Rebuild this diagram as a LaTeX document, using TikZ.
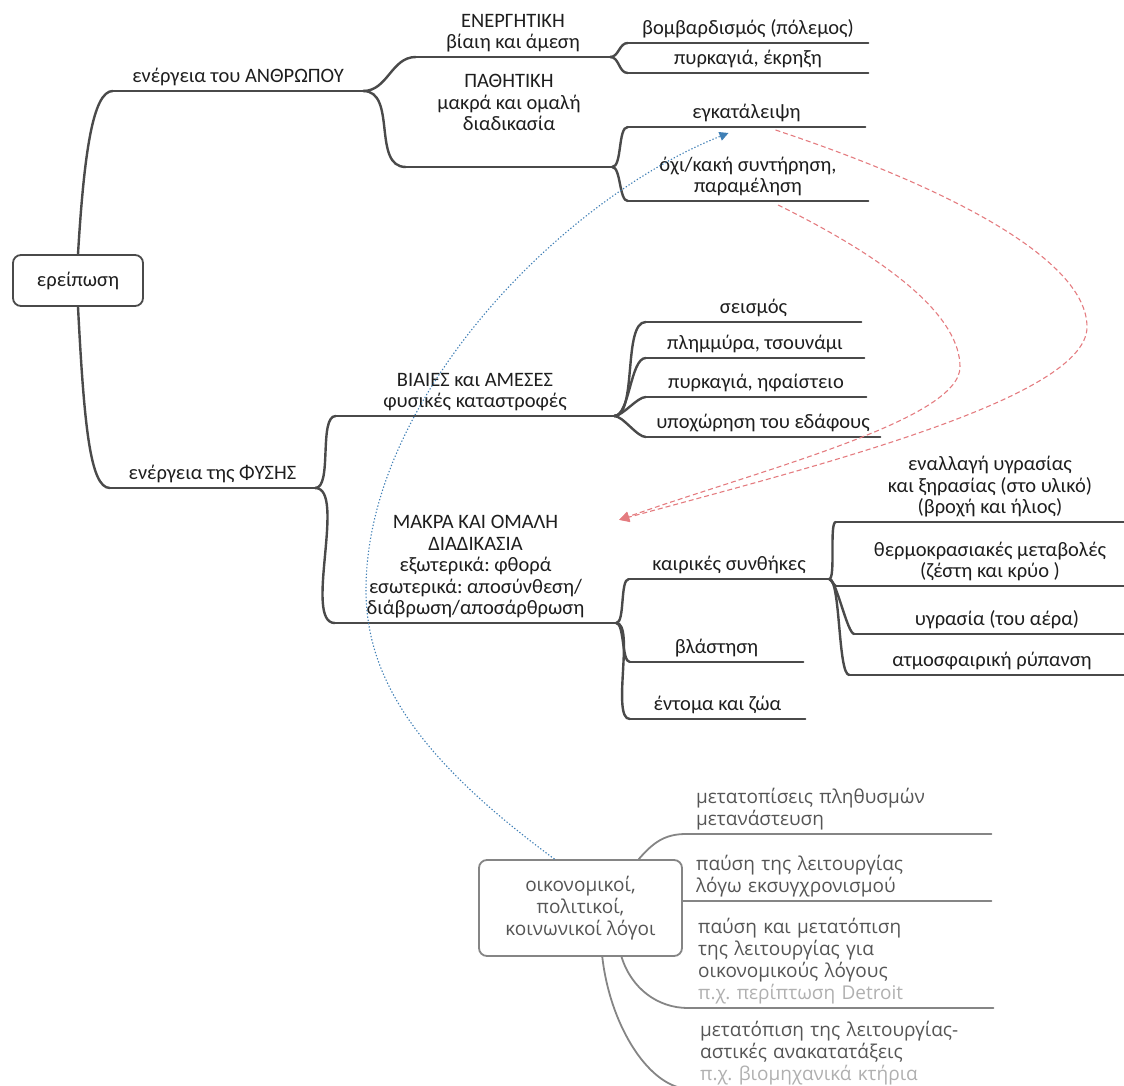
\documentclass[tikz,border=0pt]{standalone}
\usepackage{fontspec}
\setmainfont{Carlito}
\newfontfamily\folhafamilia{Open Sans}
\usetikzlibrary{calc}
\usetikzlibrary{arrows.meta}
\frenchspacing
\definecolor{linha}{HTML}{4A4A4A}
\definecolor{texto}{HTML}{1E1E1E}
\definecolor{cinza}{HTML}{858585}
\definecolor{cinzatexto}{HTML}{555555}
\definecolor{claro}{HTML}{B0B0B0}
\definecolor{verm}{HTML}{E47C80}
\definecolor{azul}{HTML}{3F7FB5}
\newcommand{\fonteramo}{\fontsize{20.5}{21.5}\selectfont}
\newcommand{\fontefolha}{\folhafamilia\fontsize{19}{22}\selectfont}
\tikzset{ramo/.style={draw=linha,line width=2.4pt,line cap=round}}
\tikzset{ramofolha/.style={draw=cinza,line width=1.8pt,line cap=round}}
\tikzset{topico/.style={anchor=south,align=center,inner xsep=0pt,inner ysep=1.5pt,text=texto,font=\fonteramo,execute at end node=\strut}}
\tikzset{folha/.style={anchor=south west,align=left,inner xsep=10pt,inner ysep=1.5pt,text width=285pt,text=cinzatexto,font=\fontefolha,execute at end node=\strut}}
\tikzset{caixa/.style={draw=#1,line width=1.8pt,rounded corners=8pt,fill=white,align=center},caixa/.default=linha}
\tikzset{liga/.style={draw=verm,line width=1.1pt,dash pattern=on 5pt off 3pt,-{Triangle[length=10pt,width=10pt,fill=verm]}}}
\tikzset{pista/.style={draw=azul,line width=1.1pt,dash pattern=on 1.3pt off 2pt,-{Triangle[length=9pt,width=9pt,fill=azul]}}}

\begin{document}
\begin{tikzpicture}[x=1pt,y=1pt]
	\useasboundingbox (0,0) rectangle (1124,-1086);
	\clip (0,0) rectangle (1124,-1086);

	% Raiz
	\node[caixa, minimum width=130, minimum height=51, text=texto, font=\fonteramo] (raiz) at (78,-280.5) {ερείπωση};

	% Ramo do homem
	\node[topico, minimum width=250] (anthr) at (238,-91) {ενέργεια του ΑΝΘΡΩΠΟΥ};
	\node[topico, minimum width=194] (energ) at (513,-57) {ΕΝΕΡΓΗΤΙΚΗ\\βίαιη και άμεση};
	\node[topico, minimum width=206, inner ysep=29.5pt] (pathi) at (509,-167) {ΠΑΘΗΤΙΚΗ\\μακρά και ομαλή\\διαδικασία};
	\node[topico, minimum width=240] (bomb) at (748,-43) {βομβαρδισμός (πόλεμος)};
	\node[topico, minimum width=240] (fotia) at (748,-73) {πυρκαγιά, έκρηξη};
	\node[topico, minimum width=237] (egk) at (746.5,-127) {εγκατάλειψη};
	\node[topico, minimum width=240] (amel) at (748,-201) {όχι/κακή συντήρηση,\\παραμέληση};

	\draw [ramo] (anthr.south west) -- (anthr.south east);
	\draw [ramo] (energ.south west) -- (energ.south east);
	\draw [ramo] (pathi.south west) -- (pathi.south east);
	\draw [ramo] (bomb.south west) -- (bomb.south east);
	\draw [ramo] (fotia.south west) -- (fotia.south east);
	\draw [ramo] (egk.south west) -- (egk.south east);
	\draw [ramo] (amel.south west) -- (amel.south east);

	\draw [ramo] (raiz.north) .. controls +(6,100) and +(-20,0) .. (anthr.south west);
	\draw [ramo] (anthr.south east) to[out=0,in=180] (energ.south west);
	\draw [ramo] (anthr.south east) to[out=0,in=180] (pathi.south west);
	\draw [ramo] (energ.south east) to[out=0,in=180] (bomb.south west);
	\draw [ramo] (energ.south east) to[out=0,in=180] (fotia.south west);
	\draw [ramo] (pathi.south east) to[out=0,in=180,looseness=0.6] (egk.south west);
	\draw [ramo] (pathi.south east) to[out=0,in=180,looseness=0.6] (amel.south west);

	% Ramo da natureza
	\node[topico, minimum width=205] (fysi) at (212.5,-488) {ενέργεια της ΦΥΣΗΣ};
	\node[topico, minimum width=278] (biaies) at (475,-416) {ΒΙΑΙΕΣ και ΑΜΕΣΕΣ\\φυσικές καταστροφές};
	\node[topico, minimum width=281] (makra) at (475.5,-623) {ΜΑΚΡΑ ΚΑΙ ΟΜΑΛΗ\\ΔΙΑΔΙΚΑΣΙΑ\\εξωτερικά: φθορά\\εσωτερικά: αποσύνθεση/\\διάβρωση/αποσάρθρωση};
	\node[topico, minimum width=215] (seism) at (753.5,-322) {σεισμός};
	\node[topico, minimum width=218] (plim) at (755,-358) {πλημμύρα, τσουνάμι};
	\node[topico, minimum width=220] (ifais) at (756,-397) {πυρκαγιά, ηφαίστειο};
	\node[topico, minimum width=234] (ypox) at (763,-437) {υποχώρηση του εδάφους};
	\node[topico, minimum width=200] (kair) at (729,-579) {καιρικές συνθήκες};
	\node[topico, minimum width=173] (vlast) at (716.5,-662) {βλάστηση};
	\node[topico, minimum width=175] (zoa) at (717.5,-719) {έντομα και ζώα};
	\node[topico, minimum width=308] (enal) at (990,-522) {εναλλαγή υγρασίας\\και ξηρασίας (στο υλικό)\\(βροχή και ήλιος)};
	\node[topico, minimum width=308] (therm) at (990,-586) {θερμοκρασιακές μεταβολές\\(ζέστη και κρύο )};
	\node[topico, minimum width=285] (ygras) at (997,-634) {υγρασία (του αέρα)};
	\node[topico, minimum width=285] (atmo) at (992,-675) {ατμοσφαιρική ρύπανση};

	\draw [ramo] (fysi.south west) -- (fysi.south east);
	\draw [ramo] (biaies.south west) -- (biaies.south east);
	\draw [ramo] (makra.south west) -- (makra.south east);
	\draw [ramo] (seism.south west) -- (seism.south east);
	\draw [ramo] (plim.south west) -- (plim.south east);
	\draw [ramo] (ifais.south west) -- (ifais.south east);
	\draw [ramo] (ypox.south west) -- (ypox.south east);
	\draw [ramo] (kair.south west) -- (kair.south east);
	\draw [ramo] (vlast.south west) -- (vlast.south east);
	\draw [ramo] (zoa.south west) -- (zoa.south east);
	\draw [ramo] (enal.south west) -- (enal.south east);
	\draw [ramo] (therm.south west) -- (therm.south east);
	\draw [ramo] (ygras.south west) -- (ygras.south east);
	\draw [ramo] (atmo.south west) -- (atmo.south east);

	\draw [ramo] (raiz.south) .. controls +(6,-115) and +(-20,0) .. (fysi.south west);
	\draw [ramo] (fysi.south east) to[out=0,in=180,looseness=0.6] (biaies.south west);
	\draw [ramo] (fysi.south east) to[out=0,in=180,looseness=0.6] (makra.south west);
	\draw [ramo] (biaies.south east) to[out=0,in=180,looseness=0.6] (seism.south west);
	\draw [ramo] (biaies.south east) to[out=0,in=180,looseness=0.6] (plim.south west);
	\draw [ramo] (biaies.south east) to[out=0,in=180,looseness=0.6] (ifais.south west);
	\draw [ramo] (biaies.south east) to[out=0,in=180,looseness=0.6] (ypox.south west);
	\draw [ramo] (makra.south east) to[out=0,in=180,looseness=0.5] (kair.south west);
	\draw [ramo] (makra.south east) to[out=0,in=180,looseness=0.5] (vlast.south west);
	\draw [ramo] (makra.south east) to[out=0,in=180,looseness=0.5] (zoa.south west);
	\draw [ramo] (kair.south east) to[out=0,in=180,looseness=0.3] (enal.south west);
	\draw [ramo] (kair.south east) to[out=0,in=180,looseness=0.3] (therm.south west);
	\draw [ramo] (kair.south east) to[out=0,in=180,looseness=0.3] (ygras.south west);
	\draw [ramo] (kair.south east) to[out=0,in=180,looseness=0.3] (atmo.south west);

	% Outros motivos
	\node[caixa=cinza, minimum width=203, minimum height=96, text=cinzatexto, font=\fontefolha] (oik) at (580.5,-908) {οικονομικοί,\\πολιτικοί,\\κοινωνικοί λόγοι};
	\node[folha] (l1) at (686,-834) {μετατοπίσεις πληθυσμών\\μετανάστευση};
	\node[folha] (l2) at (686,-901) {παύση της λειτουργίας\\λόγω εκσυγχρονισμού};
	\node[folha] (l3) at (688,-1008) {παύση και μετατόπιση\\της λειτουργίας για\\οικονομικούς λόγους\\\textcolor{claro}{π.χ. περίπτωση Detroit}};
	\node[folha] (l4) at (690,-1089) {μετατόπιση της λειτουργίας-\\αστικές ανακατατάξεις\\\textcolor{claro}{π.χ. βιομηχανικά κτήρια}};

	\draw [ramofolha] (l1.south west) -- (l1.south east);
	\draw [ramofolha] (l2.south west) -- (l2.south east);
	\draw [ramofolha] (l3.south west) -- (l3.south east);
	\draw [ramofolha] (l4.south west) -- (l4.south east);

	\draw [ramofolha] (oik.40) .. controls +(14,16) and +(-22,0) .. (l1.south west);
	\draw [ramofolha] (oik.east |- l2.south west) -- (l2.south west);
	\draw [ramofolha] (oik.-50) .. controls +(10,-32) and +(-30,0) .. (l3.south west);
	\draw [ramofolha] (oik.-66) .. controls +(8,-70) and +(-40,0) .. (l4.south west);

	% Ligacoes
	\draw [liga] ($(egk.south)+(29,-3)$) .. controls (950,-188) and (1087,-260) .. (1087,-327)
				.. controls (1087,-400) and (800,-470) .. ($(makra.north east)+(3,-6)$);
	\draw [liga] ($(amel.south)+(30,-4)$) .. controls (900,-265) and (960,-320) .. (960,-367)
				.. controls (960,-420) and (760,-470) .. ($(makra.north east)+(3,-6)$);
	\draw [pista] (oik.118) .. controls (420,-760) and (366,-680) .. (366,-590)
				.. controls (366,-400) and (560,-200) .. ($(egk.south)+(-18,-6)$);
\end{tikzpicture}
\end{document}
